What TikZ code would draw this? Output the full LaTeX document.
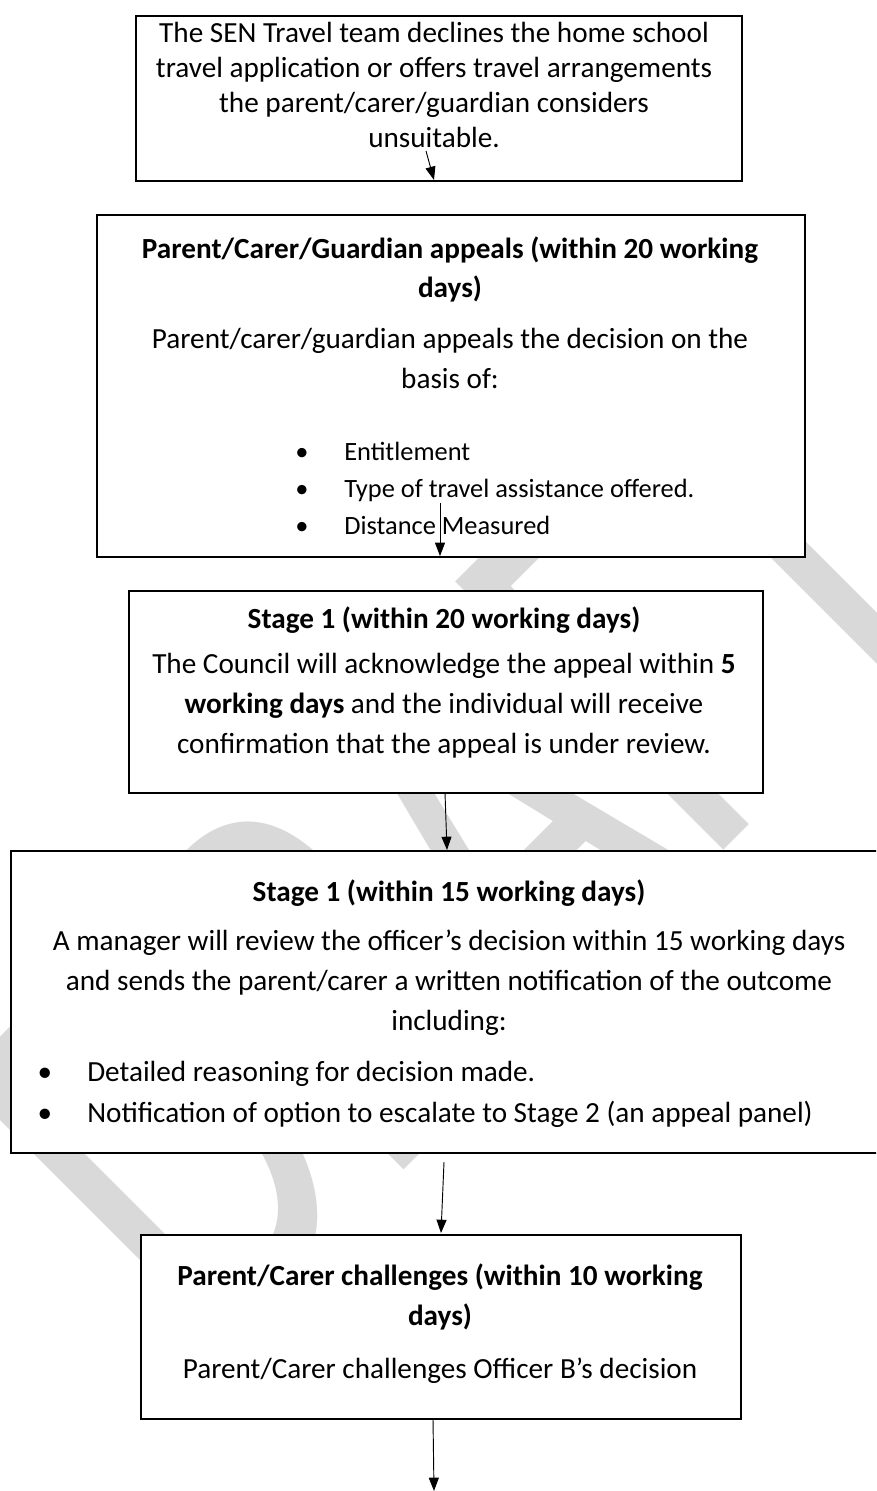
\documentclass[tikz,border=0pt]{standalone}
\usepackage{fontspec}
\setmainfont{Carlito}
\usetikzlibrary{arrows.meta}
\definecolor{wm}{RGB}{217,217,217}
\begin{document}
\begin{tikzpicture}[x=0.75pt,y=-0.75pt,
  box/.style={draw=black,line width=1.4pt,fill=white,inner sep=0pt,anchor=north west},
  txt/.style={inner sep=0pt,anchor=base,font=\fontsize{21.9}{26}\selectfont},
  small/.style={txt,font=\fontsize{19.8}{24}\selectfont},
  hd/.style={txt,font=\fontsize{21.9}{26}\selectfont\bfseries},
  lft/.style={txt,anchor=base west},
  slft/.style={small,anchor=base west},
  arr/.style={line width=0.7pt,-{Triangle[length=10pt,width=7.5pt]}}]
\useasboundingbox (0,0) rectangle (876,1491);
\clip (0,0) rectangle (876,1491);
% watermark
\node[inner sep=0pt,anchor=base west,rotate=45,yscale=1.46,text=wm,
      font=\fontsize{303.75}{310}\selectfont] (wmark) at (207,1367) {DRAFT};
% boxes
\node[box,minimum width=606*0.75pt,minimum height=165*0.75pt] (b1) at (135,15) {};
\node[box,minimum width=708*0.75pt,minimum height=342*0.75pt] (b2) at (96,214) {};
\node[box,minimum width=634*0.75pt,minimum height=202*0.75pt] (b3) at (128,590) {};
\node[box,minimum width=880*0.75pt,minimum height=302*0.75pt] (b4) at (10,850) {};
\node[box,minimum width=600*0.75pt,minimum height=184*0.75pt] (b5) at (140,1234) {};
% box 1
\node[txt] (t1a) at (434,43) {The SEN Travel team declines the home school};
\node[txt] (t1b) at (434,78) {travel application or offers travel arrangements};
\node[txt] (t1c) at (434,113) {the parent/carer/guardian considers};
\node[txt] (t1d) at (434,148) {unsuitable.};
% box 2
\node[hd] (t2a) at (450,258) {Parent/Carer/Guardian appeals (within 20 working};
\node[hd] (t2b) at (450,297) {days)};
\node[txt] (t2c) at (450,348) {Parent/carer/guardian appeals the decision on the};
\node[txt] (t2d) at (450,388) {basis of:};
\node[small] (u2a) at (302,460) {•};
\node[small] (u2b) at (302,497) {•};
\node[small] (u2c) at (302,534) {•};
\node[slft] (t2e) at (344,460) {Entitlement};
\node[slft] (t2f) at (344,497) {Type of travel assistance offered.};
\node[slft] (t2g) at (344,534) {Distance Measured};
% box 3
\node[hd] (t3a) at (444,628) {Stage 1 (within 20 working days)};
\node[txt] (t3b) at (444,673) {The Council will acknowledge the appeal within \textbf{5}};
\node[txt] (t3c) at (444,713) {\textbf{working days} and the individual will receive};
\node[txt] (t3d) at (444,753) {confirmation that the appeal is under review.};
% box 4
\node[hd] (t4a) at (449,901) {Stage 1 (within 15 working days)};
\node[txt] (t4b) at (449,950) {A manager will review the officer’s decision within 15 working days};
\node[txt] (t4c) at (449,990) {and sends the parent/carer a written notification of the outcome};
\node[txt] (t4d) at (449,1030) {including:};
\node[txt] (u4a) at (45,1081) {•};
\node[txt] (u4b) at (45,1122) {•};
\node[lft] (t4e) at (87,1081) {Detailed reasoning for decision made.};
\node[lft] (t4f) at (87,1122) {Notification of option to escalate to Stage 2 (an appeal panel)};
% box 5
\node[hd] (t5a) at (440,1285) {Parent/Carer challenges (within 10 working};
\node[hd] (t5b) at (440,1325) {days)};
\node[txt] (t5c) at (440,1378) {Parent/Carer challenges Officer B’s decision};
% arrows
\coordinate (a1s) at (426,151);
\coordinate (a1e) at (434,180);
\coordinate (a2s) at (440,503);
\coordinate (a2e) at (440,556);
\coordinate (a3s) at (445,793);
\coordinate (a3e) at (447,850);
\coordinate (a4s) at (444,1162);
\coordinate (a4e) at (441,1233);
\coordinate (a5s) at (433,1419);
\coordinate (a5e) at (434,1491);
\draw[arr] (a1s) -- (a1e);
\draw[arr] (a2s) -- (a2e);
\draw[arr] (a3s) -- (a3e);
\draw[arr] (a4s) -- (a4e);
\draw[arr] (a5s) -- (a5e);
\end{tikzpicture}
\end{document}
